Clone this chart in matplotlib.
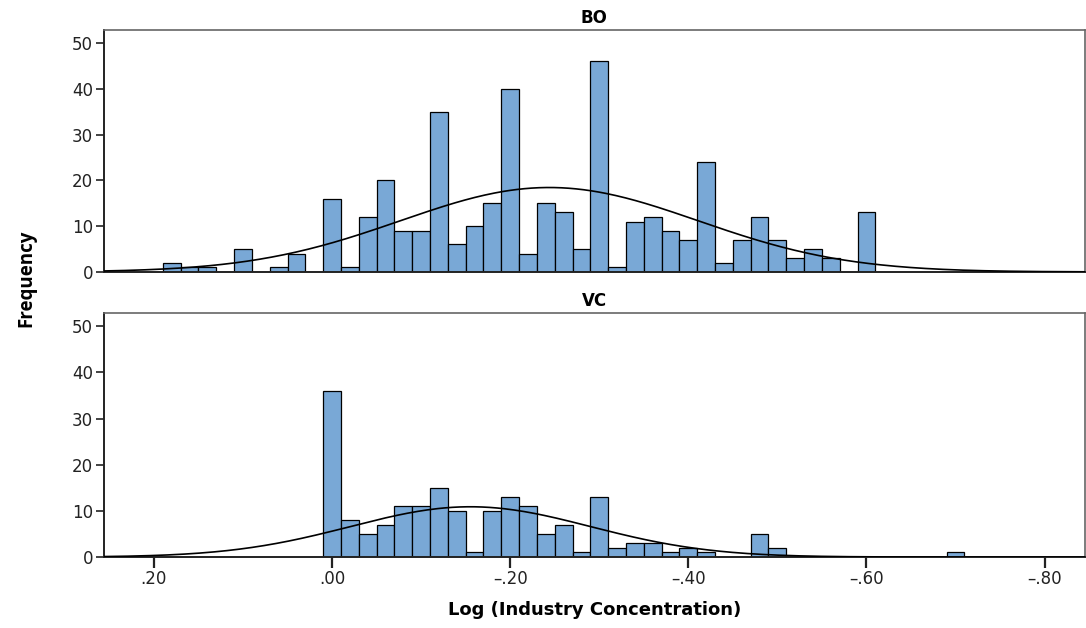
import numpy as np
import matplotlib
matplotlib.use("Agg")
import matplotlib.pyplot as plt
from matplotlib.ticker import FuncFormatter

# bin centres (log industry concentration), bin width .02
bo_bins = [0.18, 0.16, 0.14, 0.12, 0.10, 0.08, 0.06, 0.04, 0.02, 0.00,
           -0.02, -0.04, -0.06, -0.08, -0.10, -0.12, -0.14, -0.16, -0.18, -0.20,
           -0.22, -0.24, -0.26, -0.28, -0.30, -0.32, -0.34, -0.36, -0.38, -0.40,
           -0.42, -0.44, -0.46, -0.48, -0.50, -0.52, -0.54, -0.56, -0.58, -0.60]
bo_counts = [2, 1, 1, 0, 5, 0, 1, 4, 0, 16,
             1, 12, 20, 9, 9, 35, 6, 10, 15, 40,
             4, 15, 13, 5, 46, 1, 11, 12, 9, 7,
             24, 2, 7, 12, 7, 3, 5, 3, 0, 13]

vc_bins = [0.00, -0.02, -0.04, -0.06, -0.08, -0.10, -0.12, -0.14, -0.16, -0.18,
           -0.20, -0.22, -0.24, -0.26, -0.28, -0.30, -0.32, -0.34, -0.36, -0.38,
           -0.40, -0.42, -0.44, -0.46, -0.48, -0.50, -0.70]
vc_counts = [36, 8, 5, 7, 11, 11, 15, 10, 1, 10,
             13, 11, 5, 7, 1, 13, 2, 3, 3, 1,
             2, 1, 0, 0, 5, 2, 1]

x_ticks = [0.20, 0.00, -0.20, -0.40, -0.60, -0.80]
y_ticks = [0, 10, 20, 30, 40, 50]

bin_width = 0.02
bar_color = "#79a8d6"


def tick_fmt(v, pos):
    s = "%.2f" % abs(v)
    s = s[1:]  # drop leading zero
    return ("\u2013" + s) if v < -1e-9 else s


def panel(ax, bins, counts, title):
    bins = np.array(bins)
    counts = np.array(counts)
    ax.bar(bins, counts, width=bin_width, color=bar_color,
           edgecolor="black", linewidth=0.9, zorder=2)
    # normal curve from the binned data
    n = counts.sum()
    mu = (bins * counts).sum() / n
    sd = np.sqrt((counts * (bins - mu) ** 2).sum() / (n - 1))
    xs = np.linspace(0.26, -0.85, 400)
    ys = n * bin_width / (sd * np.sqrt(2 * np.pi)) * np.exp(-0.5 * ((xs - mu) / sd) ** 2)
    ax.plot(xs, ys, color="black", linewidth=1.2, zorder=3)

    ax.set_xlim(0.256, -0.845)
    ax.set_ylim(0, 52.8)
    ax.set_yticks(y_ticks)
    ax.set_xticks(x_ticks)
    ax.xaxis.set_major_formatter(FuncFormatter(tick_fmt))
    ax.tick_params(axis="y", direction="out", length=6, width=1.2,
                   labelsize=12, pad=2, colors="#222222")
    ax.tick_params(axis="x", direction="out", length=8, width=1.6,
                   labelsize=12, pad=1, colors="#222222")
    for side in ["top", "right"]:
        ax.spines[side].set_color("#666666")
        ax.spines[side].set_linewidth(1.2)
    for side in ["left", "bottom"]:
        ax.spines[side].set_color("#222222")
        ax.spines[side].set_linewidth(1.4)
    ax.set_title(title, fontsize=12, fontweight="bold", pad=5)


fig = plt.figure(figsize=(10.86, 6.28), dpi=100)
ax1 = fig.add_axes([0.0958, 0.567, 0.903, 0.385])
ax2 = fig.add_axes([0.0958, 0.113, 0.903, 0.388])

panel(ax1, bo_bins, bo_counts, "BO")
panel(ax2, vc_bins, vc_counts, "VC")
ax1.tick_params(axis="x", bottom=False, labelbottom=False)

ax2.set_xlabel("Log (Industry Concentration)", fontsize=13, fontweight="bold", labelpad=10)
fig.text(0.024, 0.557, "Frequency", rotation=90, ha="center", va="center",
         fontsize=13.5, fontweight="bold", family="Open Sans", fontstretch="condensed")

fig.savefig("out.png", dpi=100)
